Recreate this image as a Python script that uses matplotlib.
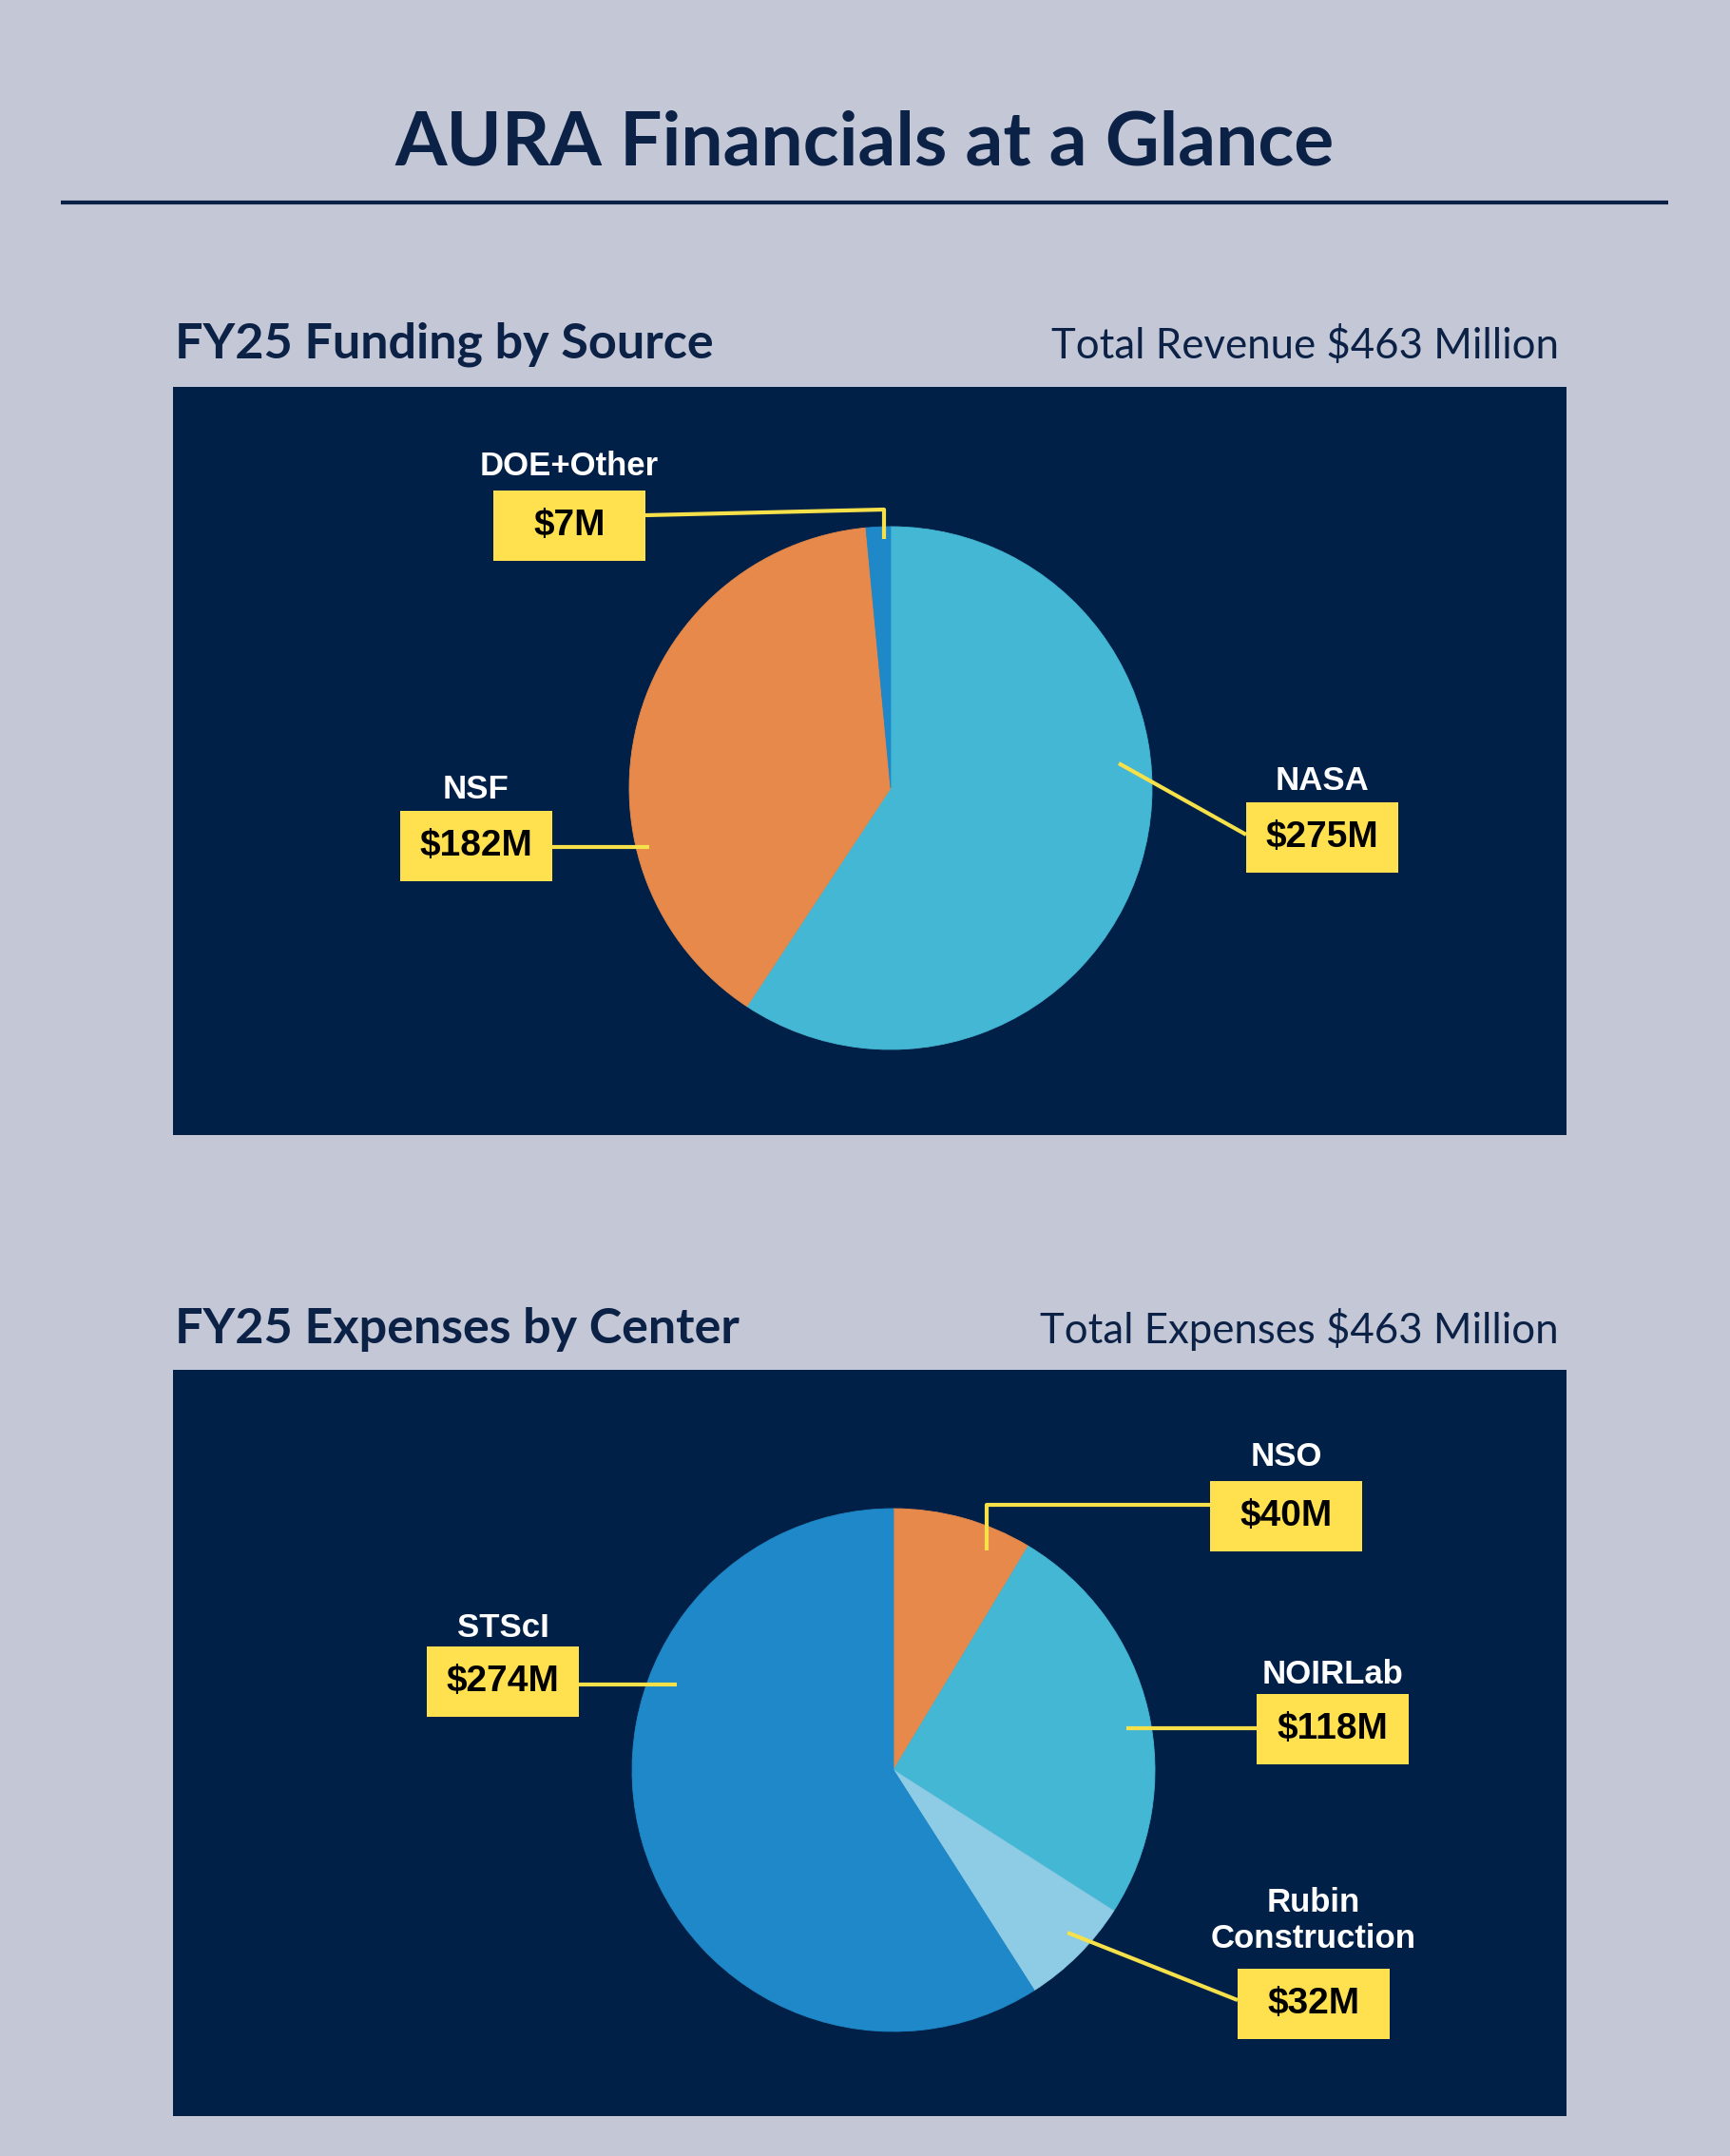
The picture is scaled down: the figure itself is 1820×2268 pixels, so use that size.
import matplotlib.pyplot as plt
from matplotlib.patches import Rectangle

W, H = 1820, 2268

# funding by source (clockwise from 12 o'clock)
fund_names = ['NASA', 'NSF', 'DOE+Other']
fund_vals = [275, 182, 7]
fund_colors = ['#44b7d4', '#e6894a', '#1e88c8']

# expenses by center (clockwise from 12 o'clock)
exp_names = ['NSO', 'NOIRLab', 'Rubin\nConstruction', 'STScI']
exp_vals = [40, 118, 32, 274]
exp_colors = ['#e6894a', '#44b7d4', '#8ecbe5', '#1e88c8']

BG = '#c3c7d6'
NAVY = '#012047'
INK = '#0c2146'
YEL = '#ffe04e'

fig = plt.figure(figsize=(W / 100, H / 100), dpi=100, facecolor=BG)
ax = fig.add_axes([0, 0, 1, 1])
ax.set_facecolor(BG)


def Y(y):
    # pixel row (top=0) -> data y
    return H - y


# header
ax.text(W / 2, Y(152), 'AURA Financials at a Glance', ha='center', va='center',
        fontsize=56.5, fontweight='bold', family='Lato', color=INK)
ax.plot([64, 1755], [Y(213), Y(213)], color=INK, lw=3, solid_capstyle='butt')


def section(top, bottom, title, total, baseline, tsize, rsize):
    ax.add_patch(Rectangle((182, Y(bottom)), 1648 - 182, bottom - top,
                           facecolor=NAVY, edgecolor='none', zorder=1))
    ax.text(184, Y(baseline), title, ha='left', va='baseline', fontsize=tsize,
            fontweight='bold', family='Lato', color=INK)
    ax.text(1640, Y(baseline), total, ha='right', va='baseline', fontsize=rsize,
            family='Lato', color=INK)


def callout(name, val, box_xy, name_y, line_pts):
    bx, by = box_xy  # box left/top in pixels
    bw, bh = 160, 74
    xs = [p[0] for p in line_pts]
    ys = [Y(p[1]) for p in line_pts]
    ax.plot(xs, ys, color='#f7e14a', lw=3.0, zorder=4, solid_capstyle='butt')
    ax.add_patch(Rectangle((bx, Y(by + bh)), bw, bh, facecolor=YEL,
                           edgecolor='none', zorder=5))
    ax.text(bx + bw / 2, Y(by + bh / 2), '$%dM' % val, ha='center', va='center',
            fontsize=28, fontweight='bold', family='Liberation Sans',
            color='black', zorder=6)
    ax.text(bx + bw / 2, Y(name_y), name, ha='center', va='bottom',
            fontsize=25, fontweight='bold', family='Liberation Sans',
            color='white', zorder=6, linespacing=1.2)


def draw_pie(vals, colors, cx, cy):
    wedges, _ = ax.pie(vals, colors=colors, startangle=90, counterclock=False,
                       center=(cx, Y(cy)), radius=275, frame=True,
                       wedgeprops=dict(zorder=2))
    for w in wedges:
        w.set_edgecolor(w.get_facecolor())
        w.set_linewidth(0.6)


# top panel
section(407, 1194, 'FY25 Funding by Source', 'Total Revenue $463 Million', 377,
        37.5, 31.5)
draw_pie(fund_vals, fund_colors, 937, 829)

callout(fund_names[0], fund_vals[0], (1311, 844), 838,
        [(1177, 803), (1311, 878)])
callout(fund_names[1], fund_vals[1], (421, 853), 847,
        [(580, 891), (683, 891)])
callout(fund_names[2], fund_vals[2], (519, 516), 507,
        [(679, 542), (930, 536), (930, 567)])

# bottom panel
section(1441, 2226, 'FY25 Expenses by Center', 'Total Expenses $463 Million', 1413,
        37.5, 31.5)
draw_pie(exp_vals, exp_colors, 940, 1862)

callout(exp_names[0], exp_vals[0], (1273, 1558), 1549,
        [(1273, 1583), (1038, 1583), (1038, 1631)])
callout(exp_names[1], exp_vals[1], (1322, 1782), 1778,
        [(1185, 1818), (1322, 1818)])
callout('Rubin\nConstruction', exp_vals[2], (1302, 2071), 2056,
        [(1123, 2033), (1302, 2104)])
callout(exp_names[3], exp_vals[3], (449, 1732), 1729,
        [(609, 1772), (712, 1772)])

ax.set_xlim(0, W)
ax.set_ylim(0, H)
ax.set_aspect('auto')
ax.axis('off')

fig.savefig('out.png', dpi=100, facecolor=BG)
